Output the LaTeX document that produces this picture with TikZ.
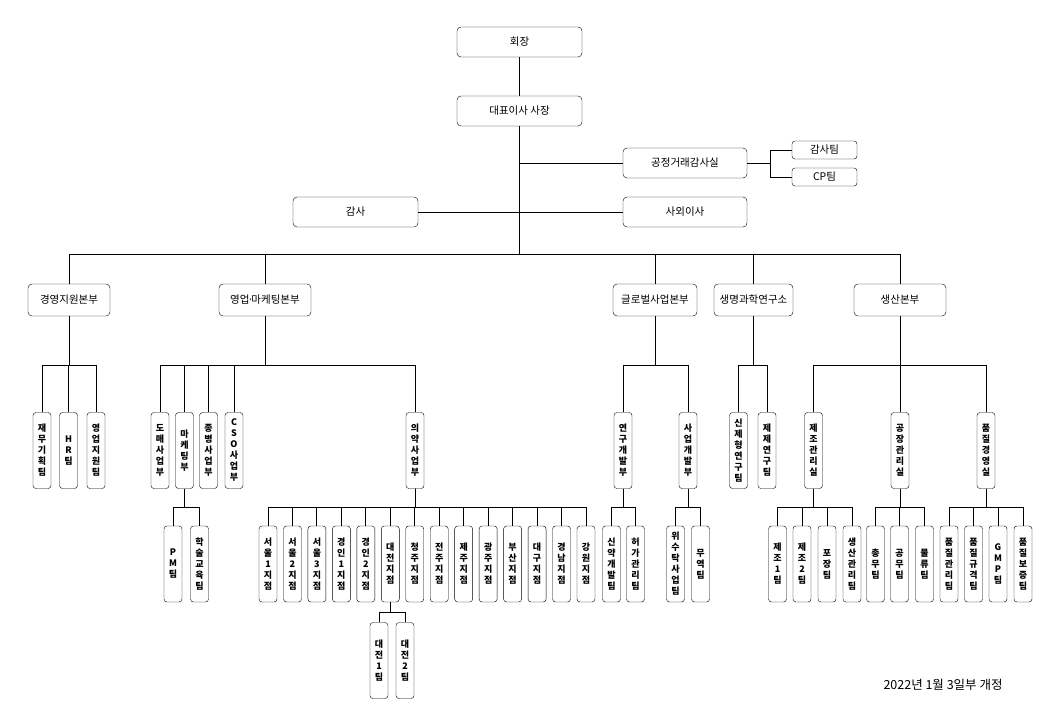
\documentclass[tikz,border=0pt]{standalone}
\usepackage{fontspec}
\setmainfont{Noto Sans CJK KR}
\usepackage{tikz}
\usetikzlibrary{positioning}

\begin{document}
\begin{tikzpicture}[
	x=1pt,y=-1pt,
	font=\fontsize{10.5}{12}\selectfont
]
\tikzset{
    topnode/.style = {rectangle, rounded corners=4pt, draw=black, align=center, minimum width=125pt, minimum height=30pt, inner sep=1pt},
    headnode/.style = {rectangle, rounded corners=4pt, draw=black, align=center, minimum height=32pt, inner sep=1pt},
    teamnode/.style = {rectangle, rounded corners=3pt, draw=black, minimum width=65pt, minimum height=18pt, inner sep=1pt},
    vnode/.style = {rectangle, rounded corners=3pt, draw=black, align=center, minimum width=18pt, minimum height=76pt, inner sep=0pt, font=\fontsize{9}{11}\selectfont\bfseries},
    link/.style = {draw=black, line width=0.9pt}
}
\useasboundingbox (0,0) rectangle (1040,720);

% top
\node[topnode] (chair) at (519.5,42) {회장};
\node[topnode] (ceo) at (519.5,111) {대표이사 사장};
\node[topnode] (audit) at (355.5,212) {감사};
\node[topnode, minimum width=124pt] (fair) at (685,163) {공정거래감사실};
\node[topnode, minimum width=124pt] (outdir) at (685,212) {사외이사};
\node[teamnode] (auditteam) at (824.5,150) {감사팀};
\node[teamnode] (cpteam) at (824.5,177) {CP팀};

\draw[link] (chair) -- (ceo);
\draw[link] (ceo.south) -- ++(0,128) coordinate (bus);
\draw[link] (ceo.south |- fair.west) -- (fair.west);
\draw[link] (audit) -- (outdir);
\draw[link] (fair.east) -- ++(23,0) coordinate (fairfork);
\draw[link] (fairfork) |- (auditteam.west);
\draw[link] (fairfork) |- (cpteam.west);

% divisions
\node[headnode, minimum width=82pt] (mgmt) at (69,300) {경영지원본부};
\node[headnode, minimum width=92pt] (sales) at (265,300) {영업\kern-2pt·\kern-2pt마케팅본부};
\node[headnode, minimum width=84pt] (global) at (655,300) {글로벌사업본부};
\node[headnode, minimum width=79pt] (bio) at (753.5,300) {생명과학연구소};
\node[headnode, minimum width=92pt] (prod) at (900,300) {생산본부};
\foreach \h in {mgmt,sales,global,bio,prod}
  \draw[link] (bus) -| (\h.north);

% departments
\node[vnode] (fin) at (42,450.5) {재\\무\\기\\획\\팀};
\node[vnode] (hr) at (68.5,450.5) {H\\R\\팀};
\node[vnode] (salessup) at (96,450.5) {영\\업\\지\\원\\팀};
\node[vnode] (wholesale) at (160,450.5) {도\\매\\사\\업\\부};
\node[vnode] (mkt) at (184.5,450.5) {마\\케\\팅\\부};
\node[vnode] (hosp) at (208.5,450.5) {종\\병\\사\\업\\부};
\node[vnode] (cso) at (234,450.5) {C\\S\\O\\사\\업\\부};
\node[vnode] (pharma) at (415,450.5) {의\\약\\사\\업\\부};
\node[vnode] (rnd) at (623,450.5) {연\\구\\개\\발\\부};
\node[vnode] (bizdev) at (688,450.5) {사\\업\\개\\발\\부};
\node[vnode] (newform) at (738.5,450.5) {신\\제\\형\\연\\구\\팀};
\node[vnode] (formul) at (767,450.5) {제\\제\\연\\구\\팀};
\node[vnode] (mfgoffice) at (813.5,450.5) {제\\조\\관\\리\\실};
\node[vnode] (plant) at (900,450.5) {공\\장\\관\\리\\실};
\node[vnode] (quality) at (986,450.5) {품\\질\\경\\영\\실};

\foreach \c in {fin,hr,salessup}
  \draw[link] (mgmt.south) -- ++(0,49) -| (\c.north);
\foreach \c in {wholesale,mkt,hosp,cso,pharma}
  \draw[link] (sales.south) -- ++(0,49) -| (\c.north);
\foreach \c in {rnd,bizdev}
  \draw[link] (global.south) -- ++(0,49) -| (\c.north);
\foreach \c in {newform,formul}
  \draw[link] (bio.south) -- ++(0,49) -| (\c.north);
\foreach \c in {mfgoffice,plant,quality}
  \draw[link] (prod.south) -- ++(0,49) -| (\c.north);

% teams
\node[vnode] (pm) at (173,564) {P\\M\\팀};
\node[vnode] (acad) at (199.5,564) {학\\술\\교\\육\\팀};
\foreach \name [count=\i from 0] in {서\\울\\1\\지\\점, 서\\울\\2\\지\\점, 서\\울\\3\\지\\점,
    경\\인\\1\\지\\점, 경\\인\\2\\지\\점, 대\\전\\지\\점, 청\\주\\지\\점, 전\\주\\지\\점,
    제\\주\\지\\점, 광\\주\\지\\점, 부\\산\\지\\점, 대\\구\\지\\점, 경\\남\\지\\점, 강\\원\\지\\점}
  \node[vnode] (br\i) at (268+24.46*\i,564) {\name};
\node[vnode] (newdrug) at (611.5,564) {신\\약\\개\\발\\팀};
\node[vnode] (permit) at (635.5,564) {허\\가\\관\\리\\팀};
\node[vnode] (contract) at (675.5,564) {위\\수\\탁\\사\\업\\팀};
\node[vnode] (trade) at (700.5,564) {무\\역\\팀};
\node[vnode] (mfg1) at (777.5,564) {제\\조\\1\\팀};
\node[vnode] (mfg2) at (802,564) {제\\조\\2\\팀};
\node[vnode] (pack) at (827,564) {포\\장\\팀};
\node[vnode] (prodmgmt) at (852,564) {생\\산\\관\\리\\팀};
\node[vnode] (general) at (875.5,564) {총\\무\\팀};
\node[vnode] (facility) at (899.5,564) {공\\무\\팀};
\node[vnode] (logistics) at (924.5,564) {물\\류\\팀};
\node[vnode] (qc) at (949,564) {품\\질\\관\\리\\팀};
\node[vnode] (qspec) at (973.5,564) {품\\질\\규\\격\\팀};
\node[vnode] (gmp) at (998,564) {G\\M\\P\\팀};
\node[vnode] (qa) at (1023,564) {품\\질\\보\\증\\팀};

\foreach \c in {pm,acad}
  \draw[link] (mkt.south) -- ++(0,19) -| (\c.north);
\foreach \i in {0,...,13}
  \draw[link] (pharma.south) -- ++(0,19) -| (br\i.north);
\foreach \c in {newdrug,permit}
  \draw[link] (rnd.south) -- ++(0,19) -| (\c.north);
\foreach \c in {contract,trade}
  \draw[link] (bizdev.south) -- ++(0,19) -| (\c.north);
\foreach \c in {mfg1,mfg2,pack,prodmgmt}
  \draw[link] (mfgoffice.south) -- ++(0,19) -| (\c.north);
\foreach \c in {general,facility,logistics}
  \draw[link] (plant.south) -- ++(0,19) -| (\c.north);
\foreach \c in {qc,qspec,gmp,qa}
  \draw[link] (quality.south) -- ++(0,19) -| (\c.north);

% daejeon teams
\node[vnode] (dj1) at (379,660.5) {대\\전\\1\\팀};
\node[vnode] (dj2) at (405,660.5) {대\\전\\2\\팀};
\foreach \c in {dj1,dj2}
  \draw[link] (br5.south) -- ++(0,10) -| (\c.north);

\node[font=\fontsize{12.5}{14}\selectfont] (rev) at (943,685) {2022년 1월 3일부 개정};
\end{tikzpicture}
\end{document}
